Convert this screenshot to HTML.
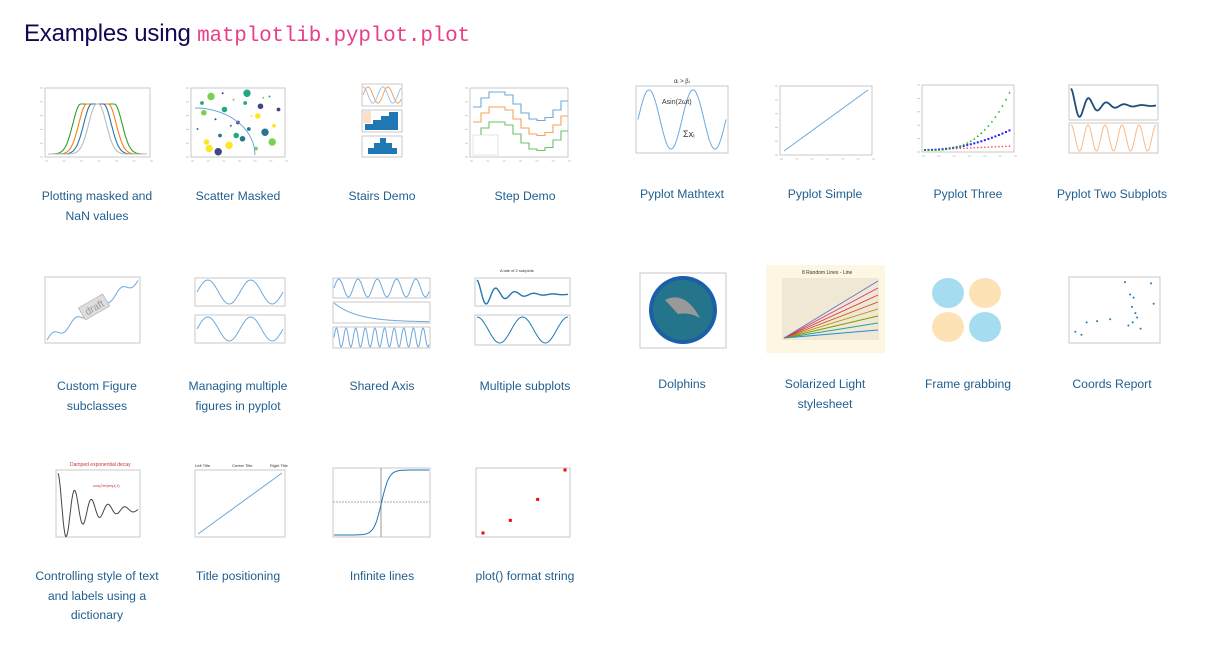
<!DOCTYPE html>
<html><head><meta charset="utf-8">
<style>
body{margin:0;width:1227px;height:648px;background:#fff;position:relative;overflow:hidden;font-family:"Liberation Sans",sans-serif}
h1{position:absolute;left:24px;top:20px;margin:0;font-weight:400;font-size:24px;color:#130654;letter-spacing:-0.2px}
h1 code{font-family:"Liberation Mono",monospace;color:#e83e8c;font-size:21px}
.cap{position:absolute;width:124px;text-align:center;font-size:12.2px;line-height:19.5px;color:#215f8f}
svg{position:absolute;left:0;top:0}
</style></head><body>
<h1>Examples using <code>matplotlib.pyplot.plot</code></h1>
<svg id="s" width="1227" height="648"></svg>
<div id="caps"></div>
<script>
const captions=["Plotting masked and NaN values","Scatter Masked","Stairs Demo","Step Demo","Pyplot Mathtext","Pyplot Simple","Pyplot Three","Pyplot Two Subplots","Custom Figure subclasses","Managing multiple figures in pyplot","Shared Axis","Multiple subplots","Dolphins","Solarized Light stylesheet","Frame grabbing","Coords Report","Controlling style of text and labels using a dictionary","Title positioning","Infinite lines","plot() format string"];
const stepValues=[0.5,0.8,1.0,1.0,0.9,0.6,0.3,0.1,0.05,0.15,0.4,0.7];
const threeT=[0,0.2,0.4,0.6,0.8,1,1.2,1.4,1.6,1.8,2,2.2,2.4,2.6,2.8,3,3.2,3.4,3.6,3.8,4,4.2,4.4,4.6,4.8];
const coordsX=[0.05,0.12,0.18,0.3,0.45,0.62,0.66,0.7,0.72,0.74,0.76,0.8,0.92,0.95,0.68,0.71];
const coordsY=[0.15,0.1,0.3,0.32,0.35,0.95,0.25,0.55,0.7,0.45,0.38,0.2,0.93,0.6,0.75,0.3];
const fmtX=[1,2,3,4];
const fmtY=[1,4,9,16];
const scatX=[0.05,0.1,0.15,0.2,0.25,0.3,0.35,0.4,0.45,0.5,0.55,0.6,0.65,0.7,0.75,0.8,0.85,0.9,0.12,0.28,0.42,0.58,0.72,0.88,0.33,0.62,0.48,0.18,0.78,0.95];
const scatY=[0.4,0.8,0.2,0.9,0.55,0.3,0.7,0.15,0.85,0.5,0.25,0.95,0.6,0.1,0.75,0.35,0.9,0.45,0.65,0.05,0.45,0.8,0.6,0.2,0.95,0.4,0.3,0.1,0.88,0.7];
const NS="http://www.w3.org/2000/svg";const S=document.getElementById('s');
function el(t,a,name){const e=document.createElementNS(NS,t);for(const k in a)e.setAttribute(k,a[k]);


S.appendChild(e);return e;}
function frame(x,y,w,h,n){el('rect',{x:x,y:y,width:w,height:h,fill:'#fff',stroke:'#bbb','stroke-width':0.8},n);}
function curve(x,y,w,h,f,n,col,sw){let d='';for(let i=0;i<=120;i++){const u=i/120;d+=(i?'L':'M')+(x+u*w).toFixed(1)+' '+(y+h-f(u)*h).toFixed(1);}el('path',{d:d,fill:'none',stroke:col||'#6fa8dc','stroke-width':sw||1},n);}
function ticks(x,y,w,h,n){for(let i=0;i<=6;i++){el('line',{x1:x+w*i/6,y1:y+h+4,x2:x+w*i/6+3,y2:y+h+4,stroke:'#ccc','stroke-width':1},n+'-xtick');}
for(let i=0;i<=5;i++){el('line',{x1:x-5,y1:y+h*i/5,x2:x-2,y2:y+h*i/5,stroke:'#ccc','stroke-width':1},n+'-ytick');}}
// row1
frame(45,88,105,69,'masked-plot');ticks(45,88,105,69,'masked');
[['#2ca02c',0.17],['#ff7f0e',0.11],['#1f77b4',0.06],['#bbb',0.01]].forEach((c,k)=>{curve(48,104,99,50,u=>{const d=Math.abs(u-0.5);return d<c[1]?1:Math.exp(-Math.pow((d-c[1])*9,2));},'masked-curve',c[0],1.1);});
frame(191,88,94,69,'scatter-plot');ticks(191,88,94,69,'scatter');
scatX.forEach((v,i)=>{const cols=['#2a788e','#22a884','#fde725','#7ad151','#414487'];el('circle',{cx:193+v*90,cy:155-scatY[i]*65,r:1+(i%4)*0.9,fill:cols[i%5]},'scatter-point');});
curve(195,108,60,47,u=>Math.sqrt(Math.max(0,1-u*u)),'scatter-boundary','#6fa8dc');
frame(362,84,40,22,'stairs-panel-1');curve(363,86,38,18,u=>0.5+0.45*Math.sin(u*12),'stairs-line','#f5a25d');curve(363,86,38,18,u=>0.5+0.45*Math.cos(u*12),'stairs-line','#9fc5e8');
frame(362,110,40,22,'stairs-panel-2');el('path',{d:'M365 130V124H373V120H381V116H389V112H398V130Z',fill:'#1f77b4'},'stairs-hist');el('rect',{x:363,y:111,width:8,height:12,fill:'#fde0c5'},'stairs-fill');
frame(362,136,40,21,'stairs-panel-3');el('path',{d:'M368 154V148H374V143H380V138H386V143H392V148H397V154Z',fill:'#1f77b4'},'stairs-hist2');
frame(470,88,98,69,'step-plot');ticks(470,88,98,69,'step');
['#6fa8dc','#f5a25d','#6dbf6d'].forEach((c,k)=>{let d='';stepValues.forEach((v,i)=>{const x=473+i*8,y=92+k*15+(1-v)*30;d+=(i?'H'+x+'V'+y:'M'+x+' '+y);});d+='H568';el('path',{d:d,fill:'none',stroke:c,'stroke-width':1.1},'step-series');});
el('rect',{x:473,y:135,width:25,height:20,fill:'#fff',stroke:'#ccc','stroke-width':0.5},'step-legend');
frame(636,86,92,67,'mathtext-plot');curve(638,88,88,63,u=>0.5+0.47*Math.sin(u*4*Math.PI),'mathtext-sine');
el('text',{x:662,y:104,'font-size':7,fill:'#333'},'mathtext-label').textContent='Asin(2ωt)';
el('text',{x:674,y:83,'font-size':6,fill:'#333'},'mathtext-title').textContent='αᵢ > βᵢ';
el('text',{x:683,y:137,'font-size':9,fill:'#333'},'mathtext-sum').textContent='Σxᵢ';
frame(780,86,92,69,'simple-plot');ticks(780,86,92,69,'simple');el('line',{x1:784,y1:151,x2:868,y2:90,stroke:'#6fa8dc','stroke-width':1},'simple-line');
frame(922,85,92,67,'three-plot');ticks(922,85,92,67,'three');
threeT.forEach(t=>{const X=925+t/5*88;el('circle',{cx:X,cy:150-t*0.8,r:0.8,fill:'#f44'},'three-red');el('rect',{x:X-1,y:150-t*t*0.85-1,width:2,height:2,fill:'#22f'},'three-blue');el('path',{d:`M${X-1.2} ${151-t*t*t*0.52}l1.2 -2l1.2 2z`,fill:'#2a2'},'three-green');});
frame(1069,85,89,35,'two-top');curve(1071,87,85,31,u=>0.4+0.55*Math.exp(-u*4)*Math.cos(u*30),'two-damped','#1f4e79',1.8);
frame(1069,123,89,30,'two-bottom');curve(1071,125,85,26,u=>0.5+0.5*Math.cos(u*31.4),'two-cos','#f8b98a');
// row2
frame(45,277,95,66,'custom-plot');curve(47,280,91,60,u=>u+0.06*Math.sin(u*25),'custom-line');
el('rect',{x:80,y:300,width:28,height:14,fill:'#ddd',stroke:'#999','stroke-width':0.5,transform:'rotate(-30 94 307)'},'draft-box');
el('text',{x:84,y:311,'font-size':10,fill:'#999',transform:'rotate(-30 94 307)'},'draft-text').textContent='draft';
frame(195,278,90,28,'managing-top');curve(197,280,86,24,u=>0.5+0.5*Math.sin(u*4*Math.PI),'managing-sine1');
frame(195,315,90,28,'managing-bottom');curve(197,317,86,24,u=>0.5+0.5*Math.sin(u*4*Math.PI),'managing-sine2');
frame(333,278,97,20,'shared-1');curve(334,279,95,18,u=>0.5+0.5*Math.sin(u*31),'shared-sine');
frame(333,302,97,21,'shared-2');curve(334,303,95,19,u=>Math.exp(-u*4),'shared-exp');
frame(333,327,97,21,'shared-3');curve(334,328,95,19,u=>0.5+0.5*Math.sin(u*62),'shared-fast');
el('text',{x:500,y:272,'font-size':4,fill:'#333'},'multi-title').textContent='A tale of 2 subplots';
frame(475,278,95,28,'multi-top');curve(477,280,91,24,u=>0.4+0.6*Math.exp(-u*4)*Math.cos(u*30),'multi-damped','#1f77b4',1.4);
frame(475,315,95,30,'multi-bottom');curve(477,317,91,26,u=>0.5+0.5*Math.cos(u*4*Math.PI),'multi-cos','#1f77b4');
frame(640,273,86,75,'dolphins-plot');el('circle',{cx:683,cy:310,r:34,fill:'#1a5fa8'},'dolphins-disk');el('circle',{cx:683,cy:310,r:30,fill:'#2d8a6e',opacity:0.5},'dolphins-noise');el('path',{d:'M665 300 Q685 290 700 318 Q690 312 678 314 Z',fill:'#999'},'dolphin-shape');
el('rect',{x:766,y:265,width:119,height:88,fill:'#fdf6e3'},'solarized-bg');el('rect',{x:782,y:278,width:97,height:62,fill:'#eee8d5'},'solarized-axes');
el('text',{x:802,y:274,'font-size':5,fill:'#333'},'solarized-title').textContent='8 Random Lines - Line';
['#268bd2','#2aa198','#859900','#b58900','#cb4b16','#dc322f','#d33682','#6c71c4'].forEach((c,k)=>{el('line',{x1:784,y1:338,x2:878,y2:338-8-k*7,stroke:c,'stroke-width':0.9},'solarized-line');});
[[948,293,'#a6dcef'],[985,293,'#fde2b5'],[948,327,'#fde2b5'],[985,327,'#a6dcef']].forEach(b=>{el('ellipse',{cx:b[0],cy:b[1],rx:16,ry:15,fill:b[2]},'frame-blob');});
frame(1069,277,91,66,'coords-plot');coordsX.forEach((v,i)=>{el('circle',{cx:1071+v*87,cy:341-coordsY[i]*62,r:1,fill:'#1f77b4'},'coords-point');});
// row3
el('text',{x:70,y:466,'font-size':5,fill:'#c33'},'damped-title').textContent='Damped exponential decay';
frame(56,470,84,67,'damped-plot');curve(58,472,80,63,u=>0.4+0.58*Math.exp(-u*3)*Math.cos(u*30),'damped-line','#444');
el('text',{x:93,y:487,'font-size':4,fill:'#c33'},'damped-label').textContent='cos(2πt)exp(-t)';
frame(195,470,90,67,'titlepos-plot');el('line',{x1:198,y1:534,x2:282,y2:473,stroke:'#6fa8dc','stroke-width':1},'titlepos-line');
el('text',{x:195,y:467,'font-size':4,fill:'#333'},'left-title').textContent='Left Title';el('text',{x:232,y:467,'font-size':4,fill:'#333'},'center-title').textContent='Center Title';el('text',{x:270,y:467,'font-size':4,fill:'#333'},'right-title').textContent='Right Title';
frame(333,468,97,69,'infinite-plot');el('line',{x1:333,y1:502,x2:430,y2:502,stroke:'#aaa','stroke-dasharray':'2 1'},'infinite-hline');el('line',{x1:381,y1:468,x2:381,y2:537,stroke:'#999'},'infinite-vline');
curve(334,470,95,65,u=>1/(1+Math.exp(-(u-0.5)*25)),'sigmoid','#1f77b4');
frame(476,468,94,69,'fmt-plot');fmtX.forEach((v,i)=>{el('rect',{x:483+(v-1)/3*82-1.5,y:533-(fmtY[i]-1)/15*63-1.5,width:3,height:3,fill:'#f00'},'fmt-point');});
// captions
const cx=[97,238,382,525,682,825,968,1112],cy=[187,377,567];
const C=document.getElementById('caps');
captions.forEach((t,i)=>{const d=document.createElement('div');d.className='cap';d.textContent=t;


let r=Math.floor(i/8),c=i%8;d.style.left=(cx[c]-62)+'px';d.style.top=(cy[r]-(c>=4&&r<2?2:0))+'px';if(i==16){d.style.width='136px';d.style.left=(cx[0]-68)+'px';}C.appendChild(d);});
</script>
</body></html>
